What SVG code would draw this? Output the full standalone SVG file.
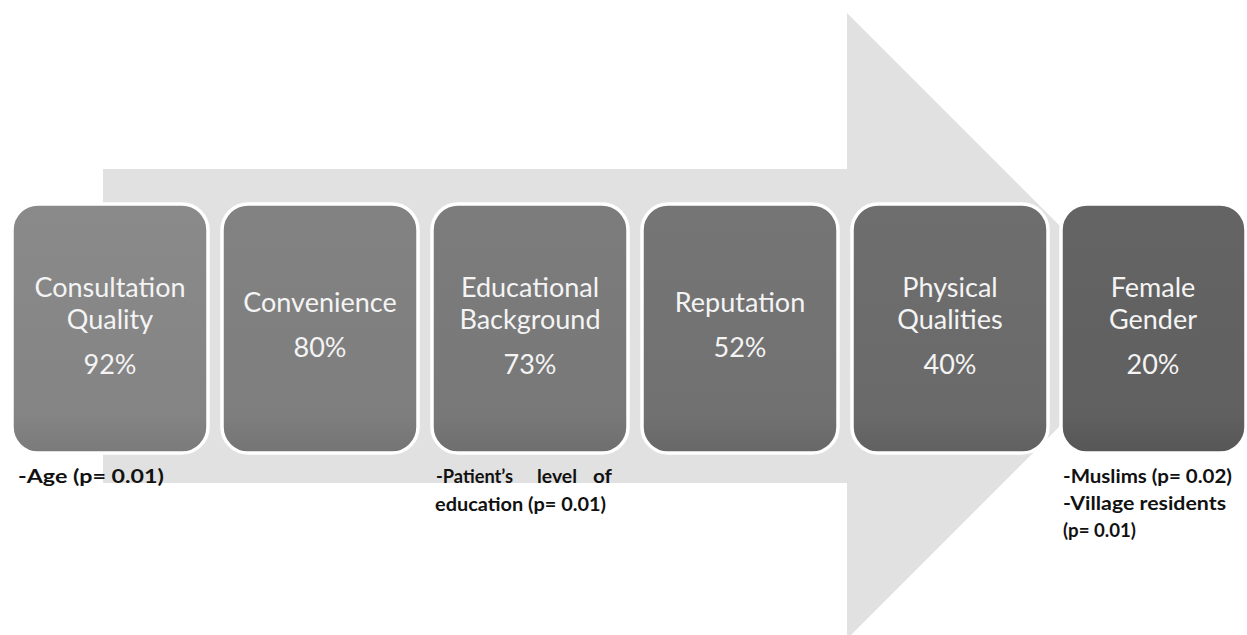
<svg xmlns="http://www.w3.org/2000/svg" width="1247" height="635" viewBox="0 0 1247 635">
<defs>
<linearGradient id="g1" x1="0" y1="0" x2="0" y2="1"><stop offset="0" stop-color="#8a8a8a"/><stop offset="0.85" stop-color="#848484"/><stop offset="1" stop-color="#7a7a7a"/></linearGradient>
<linearGradient id="g2" x1="0" y1="0" x2="0" y2="1"><stop offset="0" stop-color="#828282"/><stop offset="0.85" stop-color="#7e7e7e"/><stop offset="1" stop-color="#747474"/></linearGradient>
<linearGradient id="g3" x1="0" y1="0" x2="0" y2="1"><stop offset="0" stop-color="#7c7c7c"/><stop offset="0.85" stop-color="#787878"/><stop offset="1" stop-color="#6e6e6e"/></linearGradient>
<linearGradient id="g4" x1="0" y1="0" x2="0" y2="1"><stop offset="0" stop-color="#757575"/><stop offset="0.85" stop-color="#717171"/><stop offset="1" stop-color="#676767"/></linearGradient>
<linearGradient id="g5" x1="0" y1="0" x2="0" y2="1"><stop offset="0" stop-color="#6e6e6e"/><stop offset="0.85" stop-color="#6a6a6a"/><stop offset="1" stop-color="#606060"/></linearGradient>
<linearGradient id="g6" x1="0" y1="0" x2="0" y2="1"><stop offset="0" stop-color="#646464"/><stop offset="0.85" stop-color="#606060"/><stop offset="1" stop-color="#565656"/></linearGradient>
</defs>
<style>
.box{stroke:#ffffff;stroke-width:3.5}
.t{font-family:Lato,"Open Sans","Liberation Sans",sans-serif;font-size:27px;fill:#f4f4f4;text-anchor:middle}
.l{font-family:Lato,"Open Sans","Liberation Sans",sans-serif;font-size:18px;font-weight:bold;fill:#111111}
</style>
<rect width="1247" height="635" fill="#ffffff"/>
<g id="arrow">
<polygon points="103,169 847,169 847,13 1160,326 847,639 847,483 103,483" fill="#e1e1e1"/>
</g>
<g id="connectors"></g>
<g id="node1">
<rect class="box" x="12" y="204" width="196" height="249" rx="26" fill="url(#g1)"/>
<text class="t" x="110" y="297">Consultation</text>
<text class="t" x="110" y="329">Quality</text>
<text class="t" x="110" y="374">92%</text>
</g>
<g id="node2">
<rect class="box" x="222" y="204" width="196" height="249" rx="26" fill="url(#g2)"/>
<text class="t" x="320" y="312">Convenience</text>
<text class="t" x="320" y="357">80%</text>
</g>
<g id="node3">
<rect class="box" x="432" y="204" width="196" height="249" rx="26" fill="url(#g3)"/>
<text class="t" x="530" y="297">Educational</text>
<text class="t" x="530" y="329">Background</text>
<text class="t" x="530" y="374">73%</text>
</g>
<g id="node4">
<rect class="box" x="642" y="204" width="196" height="249" rx="26" fill="url(#g4)"/>
<text class="t" x="740" y="312">Reputation</text>
<text class="t" x="740" y="357">52%</text>
</g>
<g id="node5">
<rect class="box" x="852" y="204" width="196" height="249" rx="26" fill="url(#g5)"/>
<text class="t" x="950" y="297">Physical</text>
<text class="t" x="950" y="329">Qualities</text>
<text class="t" x="950" y="374">40%</text>
</g>
<g id="node6">
<rect class="box" x="1061" y="204" width="185" height="249" rx="26" fill="url(#g6)"/>
<text class="t" x="1153" y="297">Female</text>
<text class="t" x="1153" y="329">Gender</text>
<text class="t" x="1153" y="374">20%</text>
</g>
<g id="labels">
<text class="l" x="18" y="483" textLength="146" lengthAdjust="spacingAndGlyphs">-Age (p= 0.01)</text>
<text class="l" x="436" y="483" textLength="77" lengthAdjust="spacingAndGlyphs">-Patient’s</text>
<text class="l" x="537" y="483" textLength="40" lengthAdjust="spacingAndGlyphs">level</text>
<text class="l" x="593" y="483" textLength="19" lengthAdjust="spacingAndGlyphs">of</text>
<text class="l" x="435" y="511" textLength="171" lengthAdjust="spacingAndGlyphs">education (p= 0.01)</text>
<text class="l" x="1063" y="483" textLength="169" lengthAdjust="spacingAndGlyphs">-Muslims (p= 0.02)</text>
<text class="l" x="1063" y="510" textLength="163" lengthAdjust="spacingAndGlyphs">-Village residents</text>
<text class="l" x="1063" y="537" textLength="73" lengthAdjust="spacingAndGlyphs">(p= 0.01)</text>
</g>
</svg>
